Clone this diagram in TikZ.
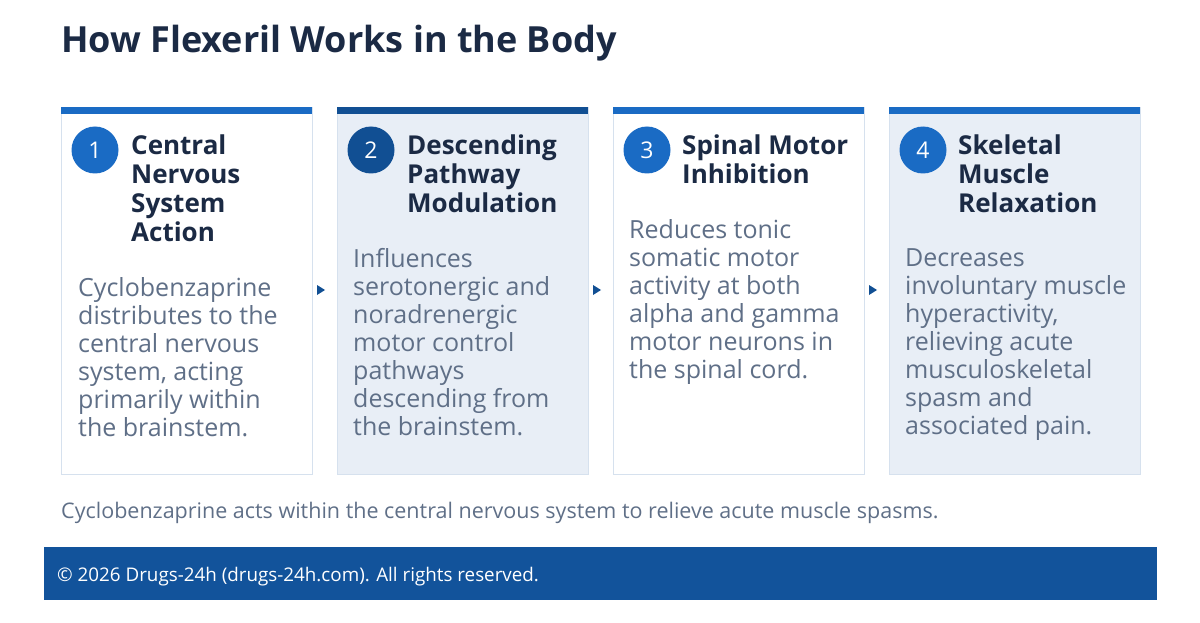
\documentclass[tikz,border=0pt]{standalone}
\usepackage{fontspec}
\setmainfont{Open Sans}
\usetikzlibrary{arrows.meta}
\definecolor{cblue}{HTML}{1A6BC4}
\definecolor{cdark}{HTML}{114F93}
\definecolor{cfoot}{HTML}{12539B}
\definecolor{clight}{HTML}{E8EEF6}
\definecolor{cborder}{HTML}{D6E1EE}
\definecolor{chead}{HTML}{1B2A44}
\definecolor{cbody}{HTML}{5F6F87}
\tikzset{
  card/.style={draw=cborder, line width=0.8pt},
  num/.style={circle, minimum size=47pt, inner sep=0, text=white, font=\fontsize{23}{23}\selectfont},
  head/.style={anchor=north west, inner sep=0, align=left, text=chead, font=\fontsize{26}{29}\selectfont\bfseries},
  body/.style={anchor=north west, inner sep=0, align=left, text=cbody, font=\fontsize{25}{28}\selectfont},
}
\begin{document}
\begin{tikzpicture}[x=1pt,y=-1pt]
\useasboundingbox (0,0) rectangle (1200,623);
\node[anchor=base west, inner sep=0, text=chead, font=\fontsize{36}{36}\selectfont\bfseries] (title) at (61,53) {How Flexeril Works in the Body};
% cards
\foreach \i/\x/\f/\b in {1/61/white/cblue,2/337/clight/cdark,3/613/white/cblue,4/889/clight/cblue}{
  \path[card, fill=\f] (\x,107) rectangle ++(251,367);
  \fill[\b] (\x,107) rectangle ++(251,7);
  \node[num, fill=\b] (n\i) at (\x+34,150) {\i};
}
\node[head] (h1) at (131,135) {Central\\Nervous\\System\\Action};
\node[head] (h2) at (407,135) {Descending\\Pathway\\Modulation};
\node[head] (h3) at (682,135) {Spinal Motor\\Inhibition};
\node[head] (h4) at (958,135) {Skeletal\\Muscle\\Relaxation};
\node[body] (b1) at (78,277) {Cyclobenzaprine\\distributes to the\\central nervous\\system, acting\\primarily within\\the brainstem.};
\node[body] (b2) at (353,248) {Influences\\serotonergic and\\noradrenergic\\motor control\\pathways\\descending from\\the brainstem.};
\node[body] (b3) at (629,219) {Reduces tonic\\somatic motor\\activity at both\\alpha and gamma\\motor neurons in\\the spinal cord.};
\node[body] (b4) at (905,248) {Decreases\\involuntary muscle\\hyperactivity,\\relieving acute\\musculoskeletal\\spasm and\\associated pain.};
% arrows
\foreach \x in {317,593,869}{
  \fill[cdark] (\x,285) -- (\x+8,290) -- (\x,295) -- cycle;
}
\node[anchor=base west, inner sep=0, text=cbody, font=\fontsize{21.5}{22}\selectfont] (cap) at (61,518) {Cyclobenzaprine acts within the central nervous system to relieve acute muscle spasms.};
\fill[cfoot] (44,547) rectangle (1157,600);
\node[anchor=base west, inner sep=0, text=white, font=\fontsize{18.8}{19}\selectfont] (foot) at (57,581) {© 2026 Drugs-24h (drugs-24h.com). All rights reserved.};
\end{tikzpicture}
\end{document}
